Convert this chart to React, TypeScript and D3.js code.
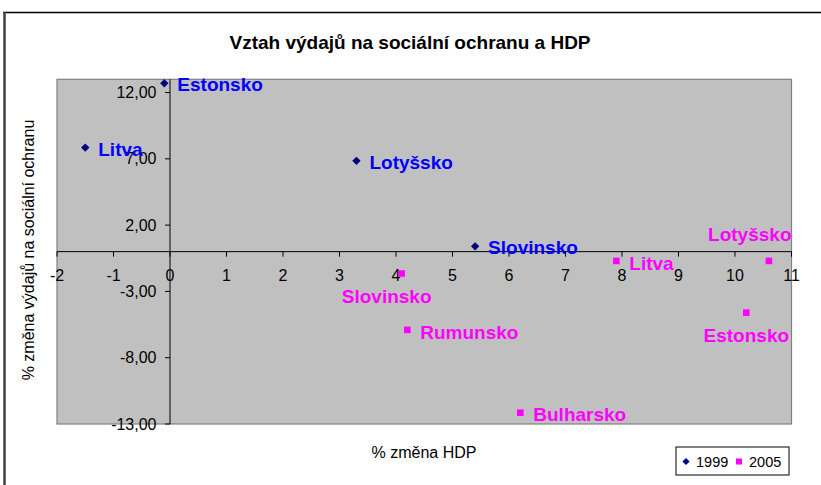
import { useRef, useEffect } from 'react'
import * as d3 from 'd3'

// 1999 series
const countries1999 = ["Estonsko", "Litva", "Lotyšsko", "Slovinsko"]
const hdp1999 = [-0.1, -1.5, 3.3, 5.4]
const social1999 = [12.7, 7.85, 6.85, 0.4]

// 2005 series
const countries2005 = ["Slovinsko", "Litva", "Lotyšsko", "Estonsko", "Rumunsko", "Bulharsko"]
const hdp2005 = [4.1, 7.9, 10.6, 10.2, 4.2, 6.2]
const social2005 = [-1.65, -0.7, -0.7, -4.6, -5.9, -12.15]
const labelPlacement2005 = ["below", "right", "above", "below", "right", "right"]
// manual nudge of the label (Slovinsko was dragged left in the original)
const labelNudge2005 = [-15, 0, 0, 0, 0, 0]

const xTicks = [-2, -1, 0, 1, 2, 3, 4, 5, 6, 7, 8, 9, 10, 11]
const yTicks = [-13, -8, -3, 2, 7, 12]
const legendLabels = ["1999", "2005"]

const title = "Vztah výdajů na sociální ochranu a HDP"
const xTitle = "% změna HDP"
const yTitle = "% změna výdajů na sociální ochranu"

const FONT = "'Liberation Sans', Arial, sans-serif"
const NAVY = "#000080"
const MAGENTA = "#FF00FF"

export default function App() {
  const svgRef = useRef<SVGSVGElement>(null)
  const width = 821
  const height = 485

  useEffect(() => {
    if (!svgRef.current) return
    document.body.style.margin = "0"

    const svg = d3.select(svgRef.current)
    svg.selectAll("*").remove()

    const plot = { left: 57, right: 791.5, top: 79.3, bottom: 424 }

    const x = d3.scaleLinear().domain([-2, 11]).range([plot.left, plot.right])
    const y = d3.scaleLinear().domain([-13, 13]).range([plot.bottom, plot.top])

    // white background + chart border (top and left visible)
    svg.append("rect").attr("width", width).attr("height", height).attr("fill", "white")
    svg.append("line")
      .attr("x1", 3).attr("x2", width).attr("y1", 12.5).attr("y2", 12.5)
      .attr("stroke", "black").attr("stroke-width", 1.5)
    svg.append("line")
      .attr("x1", 4.5).attr("x2", 4.5).attr("y1", 12).attr("y2", height)
      .attr("stroke", "#404040").attr("stroke-width", 2.5)

    // title
    svg.append("text")
      .attr("x", 410).attr("y", 49)
      .attr("text-anchor", "middle")
      .style("font-family", FONT).style("font-size", "19px").style("font-weight", "bold")
      .text(title)

    // plot area
    svg.append("rect")
      .attr("x", plot.left).attr("y", plot.top)
      .attr("width", plot.right - plot.left).attr("height", plot.bottom - plot.top)
      .attr("fill", "#C0C0C0").attr("stroke", "#808080").attr("stroke-width", 1.2)

    // x axis on y = 0
    const xAxis = svg.append("g")
    xAxis.append("line")
      .attr("x1", plot.left).attr("x2", plot.right)
      .attr("y1", y(0)).attr("y2", y(0))
      .attr("stroke", "black")
    xAxis.selectAll(".xtick")
      .data(xTicks)
      .enter()
      .append("line")
      .attr("x1", d => x(d)).attr("x2", d => x(d))
      .attr("y1", y(0)).attr("y2", y(0) + 5)
      .attr("stroke", "black")
    xAxis.selectAll(".xlabel")
      .data(xTicks)
      .enter()
      .append("text")
      .attr("x", d => x(d)).attr("y", y(0) + 24)
      .attr("dy", "0.35em")
      .attr("text-anchor", "middle")
      .style("font-family", FONT).style("font-size", "16px")
      .text(d => String(d))

    // y axis on x = 0
    const fmt = (v: number) => v.toFixed(2).replace(".", ",")
    const yAxis = svg.append("g")
    yAxis.append("line")
      .attr("x1", x(0)).attr("x2", x(0))
      .attr("y1", plot.top).attr("y2", plot.bottom)
      .attr("stroke", "black")
    yAxis.selectAll(".ytick")
      .data(yTicks)
      .enter()
      .append("line")
      .attr("x1", x(0) - 5).attr("x2", x(0))
      .attr("y1", d => y(d)).attr("y2", d => y(d))
      .attr("stroke", "black")
    yAxis.selectAll(".ylabel")
      .data(yTicks)
      .enter()
      .append("text")
      .attr("x", x(0) - 13.5).attr("y", d => y(d))
      .attr("dy", "0.35em")
      .attr("text-anchor", "end")
      .style("font-family", FONT).style("font-size", "16px")
      .text(d => fmt(d))

    // axis titles
    svg.append("text")
      .attr("x", 424).attr("y", 452)
      .attr("dy", "0.35em")
      .attr("text-anchor", "middle")
      .style("font-family", FONT).style("font-size", "16px")
      .text(xTitle)
    svg.append("text")
      .attr("transform", "translate(28,250) rotate(-90)")
      .attr("dy", "0.35em")
      .attr("text-anchor", "middle")
      .style("font-family", FONT).style("font-size", "16px")
      .text(yTitle)

    const diamond = "M0,-4.2L4.2,0L0,4.2L-4.2,0Z"
    const square = "M-3.3,-3.3H3.3V3.3H-3.3Z"

    // 1999 points
    const s1999 = countries1999.map((c, i) => ({ c, x: hdp1999[i], y: social1999[i] }))
    svg.selectAll(".p1999")
      .data(s1999)
      .enter()
      .append("path")
      .attr("d", diamond)
      .attr("transform", d => `translate(${x(d.x)},${y(d.y)})`)
      .attr("fill", NAVY)
    svg.selectAll(".l1999")
      .data(s1999)
      .enter()
      .append("text")
      .attr("x", d => x(d.x) + 13)
      .attr("y", d => y(d.y) + 1.5)
      .attr("dy", "0.35em")
      .style("font-family", FONT).style("font-size", "19px").style("font-weight", "bold")
      .attr("fill", "#0000FF")
      .text(d => d.c)

    // 2005 points
    const s2005 = countries2005.map((c, i) => ({
      c, x: hdp2005[i], y: social2005[i], pos: labelPlacement2005[i], nudge: labelNudge2005[i]
    }))
    svg.selectAll(".p2005")
      .data(s2005)
      .enter()
      .append("path")
      .attr("d", square)
      .attr("transform", d => `translate(${x(d.x)},${y(d.y)})`)
      .attr("fill", MAGENTA)
    const labels2005 = svg.selectAll(".l2005")
      .data(s2005)
      .enter()
      .append("text")
      .attr("dy", "0.35em")
      .style("font-family", FONT).style("font-size", "19px").style("font-weight", "bold")
      .attr("fill", MAGENTA)
      .text(d => d.c)
    labels2005.each(function (d) {
      const t = d3.select(this)
      const w = (this as SVGTextElement).getComputedTextLength()
      const px = x(d.x) + d.nudge
      const py = y(d.y)
      if (d.pos === "right") {
        t.attr("x", px + 13).attr("y", py + 2)
      } else {
        let left = px - w / 2
        if (left + w > plot.right) left = plot.right - w
        t.attr("x", left).attr("y", d.pos === "above" ? py - 27 : py + 23)
      }
    })

    // legend
    const legend = svg.append("g").attr("transform", "translate(676,447)")
    legend.append("rect")
      .attr("width", 113).attr("height", 28)
      .attr("fill", "white").attr("stroke", "black").attr("stroke-width", 1)
    const items = legend.selectAll(".item")
      .data(legendLabels)
      .enter()
      .append("g")
      .attr("transform", (_, i) => `translate(${10 + i * 53},14.5)`)
    items.append("path")
      .attr("d", (_, i) => (i === 0 ? "M0,-3.6L3.6,0L0,3.6L-3.6,0Z" : "M-3,-3H3V3H-3Z"))
      .attr("fill", (_, i) => (i === 0 ? NAVY : MAGENTA))
    items.append("text")
      .attr("x", 10).attr("dy", "0.35em")
      .style("font-family", FONT).style("font-size", "14.5px")
      .text(d => d)
  }, [])

  return <svg ref={svgRef} width={width} height={height} style={{ display: "block" }} />
}
